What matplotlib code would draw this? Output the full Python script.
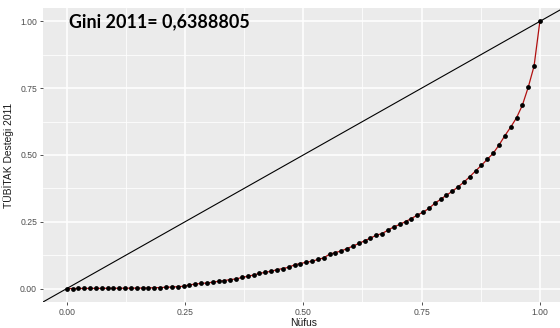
import numpy as np
import matplotlib.pyplot as plt

# Lorenz curve of TÜBİTAK support over 81 provinces (2011)
n_prov = 81
pop_share = np.arange(n_prov + 1) / n_prov
support_share = [
    0.000, 0.0003, 0.0005, 0.0007, 0.0009, 0.0010, 0.0011, 0.0012, 0.0013, 0.0014,
    0.0015, 0.0017, 0.0019, 0.0022, 0.0026, 0.0032, 0.0040, 0.0050, 0.0060, 0.0072,
    0.0088, 0.0140, 0.0170, 0.0195, 0.0210, 0.0240, 0.0275, 0.0300, 0.0340, 0.0360,
    0.0420, 0.0460, 0.0510, 0.0570, 0.0610, 0.0650, 0.0710, 0.0750, 0.0800, 0.0890,
    0.0940, 0.0985, 0.1025, 0.1090, 0.1150, 0.1290, 0.1350, 0.1410, 0.1500, 0.1590,
    0.1690, 0.1790, 0.1890, 0.2000, 0.2060, 0.2190, 0.2310, 0.2400, 0.2510, 0.2620,
    0.2750, 0.2860, 0.3000, 0.3190, 0.3340, 0.3495, 0.3640, 0.3810, 0.3985, 0.4190,
    0.4405, 0.4615, 0.4840, 0.5060, 0.5370, 0.5720, 0.6040, 0.6390, 0.6860, 0.7530,
    0.8320, 1.0000,
]
gini_text = "Gini 2011= 0,6388805"

plt.rcParams['font.family'] = ['Liberation Sans', 'DejaVu Sans']

fig = plt.figure(figsize=(5.6, 3.28), dpi=100)
ax = fig.add_axes([0.0768, 0.0793, 0.9295, 0.8963])
ax.set_facecolor('#EBEBEB')

ticks = [0, 0.25, 0.5, 0.75, 1.0]
minor = [0.125, 0.375, 0.625, 0.875]
ax.set_xticks(ticks)
ax.set_yticks(ticks)
ax.set_xticks(minor, minor=True)
ax.set_yticks(minor, minor=True)
ax.grid(True, which='major', color='white', lw=1.1)
ax.grid(True, which='minor', color='white', lw=0.55)
ax.set_axisbelow(True)
for s in ax.spines.values():
    s.set_visible(False)

ax.set_xlim(-0.05, 1.05)
ax.set_ylim(-0.05, 1.05)

# equality line
ax.plot([-0.1, 1.1], [-0.1, 1.1], color='black', lw=0.8, zorder=2)
ax.plot(pop_share, support_share, color='#B01010', lw=0.9, zorder=3)
ax.scatter(pop_share, support_share, s=12, color='black', zorder=4, linewidths=0)

ax.set_xticklabels(['0.00', '0.25', '0.50', '0.75', '1.00'])
ax.set_yticklabels(['0.00', '0.25', '0.50', '0.75', '1.00'])
ax.tick_params(which='major', length=2.5, width=0.6, color='#333333',
               labelsize=6.2, labelcolor='#4D4D4D', pad=1.8)
ax.tick_params(which='minor', length=0)

ax.set_xlabel('Nüfus', fontsize=7.4, color='#1A1A1A', labelpad=0.5)
ax.set_ylabel('TÜBİTAK Desteği 2011', fontsize=7.4, color='#1A1A1A', labelpad=4)

ax.text(0.005, 1.0, gini_text, fontsize=12.9, fontweight='bold', family=['Lato', 'DejaVu Sans'],
        ha='left', va='center', color='black')

fig.savefig('out.png', dpi=100)
